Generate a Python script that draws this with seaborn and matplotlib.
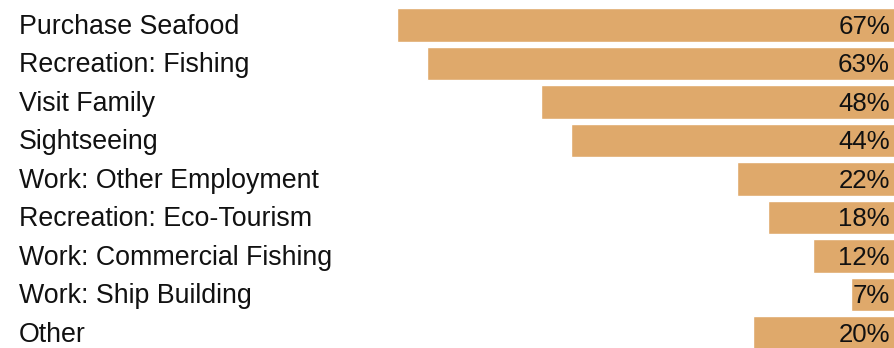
import matplotlib
matplotlib.use("Agg")
import matplotlib.pyplot as plt
import matplotlib.transforms as mtransforms
import seaborn as sns
import pandas as pd

categories = ["Purchase Seafood", "Recreation: Fishing", "Visit Family", "Sightseeing",
              "Work: Other Employment", "Recreation: Eco-Tourism", "Work: Commercial Fishing",
              "Work: Ship Building", "Other"]
values = [67, 63, 48, 44, 22, 18, 12, 7, 20]
value_labels = [f"{v}%" for v in values]

df = pd.DataFrame({"category": categories, "value": values})

sns.set_theme(style="white")
plt.rcParams["font.family"] = ["Liberation Sans", "DejaVu Sans"]

W, H = 895, 348
fig = plt.figure(figsize=(W / 100, H / 100), dpi=100)
ax = fig.add_axes([147 / W, 0.0, 1 - 147 / W, 1.0])
sns.barplot(data=df, y="category", x="value", orient="h", color="#dfa96b",
            saturation=1, width=0.878, ax=ax)
ax.set_xlim(100, 9 / 7.567)
ax.set_ylim(8.39, -0.649)
ax.axis("off")

fs_lab = 19.3
fs_val = 18.6
off = 8.8 / 38.5
trans = mtransforms.blended_transform_factory(fig.transFigure, ax.transData)
trans_v = mtransforms.blended_transform_factory(fig.transFigure, ax.transData)
for i, (c, lab) in enumerate(zip(categories, value_labels)):
    ax.text(19 / W, i + off, c, transform=trans, ha="left", va="baseline",
            fontsize=fs_lab, color="#111111")
    ax.text(890 / W, i + off, lab, transform=trans_v, ha="right", va="baseline",
            fontsize=fs_val, color="#111111")

fig.savefig("out.png", dpi=100)
